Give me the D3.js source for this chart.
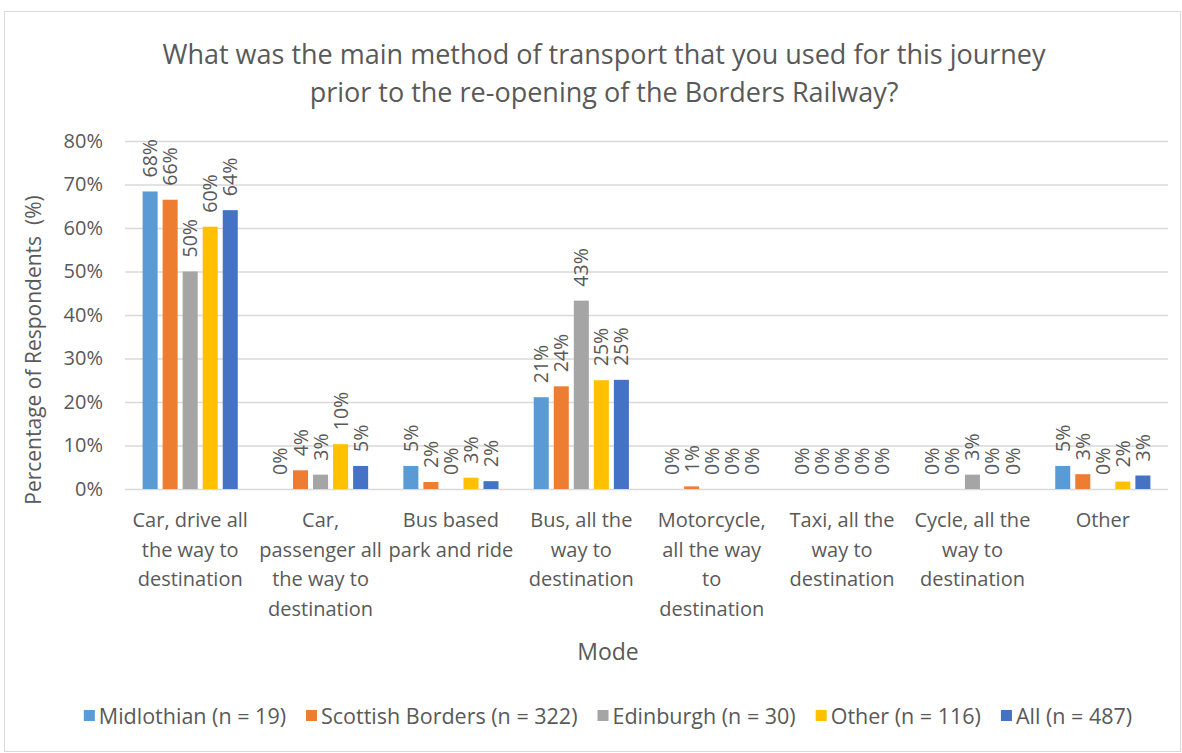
<!DOCTYPE html>
<meta charset="utf-8">
<head>
  <title>Transport mode prior to Borders Railway</title>
  <style>
    body { margin: 0; background: #fff; }
    text { font-family: "Open Sans", "Noto Sans", sans-serif; fill: #595959; }
  </style>
</head>
<script src="https://d3js.org/d3.v7.min.js"></script>
<div id="my_dataviz"></div>
<script>

// categories (wrapped lines as shown under the axis)
var categories = ["Car, drive all the way to destination", "Car, passenger all the way to destination",
  "Bus based park and ride", "Bus, all the way to destination", "Motorcycle, all the way to destination",
  "Taxi, all the way to destination", "Cycle, all the way to destination", "Other"];
var catLines = [
  ["Car, drive all", "the way to", "destination"],
  ["Car,", "passenger all", "the way to", "destination"],
  ["Bus based", "park and ride"],
  ["Bus, all the", "way to", "destination"],
  ["Motorcycle,", "all the way", "to", "destination"],
  ["Taxi, all the", "way to", "destination"],
  ["Cycle, all the", "way to", "destination"],
  ["Other"]
];

var seriesNames = ["Midlothian (n = 19)", "Scottish Borders (n = 322)", "Edinburgh (n = 30)", "Other (n = 116)", "All (n = 487)"];
var seriesColors = ["#5b9bd5", "#ed7d31", "#a5a5a5", "#ffc000", "#4472c4"];

// values in percent
var midlothian = [68.4, 0, 5.3, 21.1, 0, 0, 0, 5.3];
var borders    = [66.5, 4.3, 1.6, 23.6, 0.6, 0, 0, 3.4];
var edinburgh  = [50.0, 3.3, 0, 43.3, 0, 0, 3.3, 0];
var otherArea  = [60.3, 10.3, 2.6, 25.0, 0, 0, 0, 1.7];
var allResp    = [64.1, 5.3, 1.8, 25.1, 0, 0, 0, 3.1];
var valueLabels = [
  ["68%", "0%", "5%", "21%", "0%", "0%", "0%", "5%"],
  ["66%", "4%", "2%", "24%", "1%", "0%", "0%", "3%"],
  ["50%", "3%", "0%", "43%", "0%", "0%", "3%", "0%"],
  ["60%", "10%", "3%", "25%", "0%", "0%", "0%", "2%"],
  ["64%", "5%", "2%", "25%", "0%", "0%", "0%", "3%"]
];
var series = [midlothian, borders, edinburgh, otherArea, allResp];
var yTicks = [0, 10, 20, 30, 40, 50, 60, 70, 80];

var W = 1182, H = 753;
var plot = {left: 125, right: 1168, top: 141, bottom: 489};

var svg = d3.select("#my_dataviz").append("svg")
  .attr("width", W).attr("height", H);

// chart border
svg.append("rect")
  .attr("x", 4.5).attr("y", 11.5)
  .attr("width", 1176).attr("height", 740)
  .attr("fill", "#fff").attr("stroke", "#d9d9d9");

var x0 = d3.scaleBand().domain(categories).range([plot.left, plot.right]).paddingInner(0.27).paddingOuter(0.135);
var x1 = d3.scaleBand().domain(seriesNames).range([0, x0.bandwidth()]).paddingInner(0.25);
var y = d3.scaleLinear().domain([0, 80]).range([plot.bottom, plot.top]);

// gridlines
svg.append("g").selectAll("line").data(yTicks).enter().append("line")
  .attr("x1", plot.left).attr("x2", plot.right)
  .attr("y1", function(d) { return y(d) + 0.5; })
  .attr("y2", function(d) { return y(d) + 0.5; })
  .attr("stroke", "#d9d9d9").attr("stroke-width", 1.5);

// y axis labels
var yAxis = svg.append("g")
  .attr("transform", "translate(" + (plot.left - 4) + ",0)")
  .call(d3.axisLeft(y).tickValues(yTicks).tickSize(0).tickPadding(18).tickFormat(function(d) { return d + "%"; }));
yAxis.select(".domain").remove();
yAxis.selectAll("text").style("font-size", "20px").attr("fill", "#595959");

// bars
series.forEach(function(vals, si) {
  var g = svg.append("g");
  g.selectAll("rect").data(vals).enter().append("rect")
    .attr("x", function(d, i) { return x0(categories[i]) + x1(seriesNames[si]); })
    .attr("y", function(d) { return y(d); })
    .attr("width", x1.bandwidth())
    .attr("height", function(d) { return y(0) - y(d); })
    .attr("fill", seriesColors[si]);
  g.selectAll("text").data(vals).enter().append("text")
    .attr("transform", function(d, i) {
      var cx = x0(categories[i]) + x1(seriesNames[si]) + x1.bandwidth() / 2 + 7;
      return "translate(" + cx + "," + (y(d) - 14) + ") rotate(-90)";
    })
    .style("font-size", "19.5px")
    .text(function(d, i) { return valueLabels[si][i]; });
});

// category labels
catLines.forEach(function(lines, i) {
  var t = svg.append("text")
    .attr("text-anchor", "middle")
    .style("font-size", "20px");
  lines.forEach(function(l, k) {
    t.append("tspan")
      .attr("x", x0(categories[i]) + x0.bandwidth() / 2)
      .attr("y", 527 + k * 29.5)
      .text(l);
  });
});

// title
svg.append("text").attr("x", 604).attr("y", 64)
  .attr("text-anchor", "middle").style("font-size", "27px")
  .text("What was the main method of transport that you used for this journey");
svg.append("text").attr("x", 604).attr("y", 102)
  .attr("text-anchor", "middle").style("font-size", "27px")
  .text("prior to the re-opening of the Borders Railway?");

// axis titles
svg.append("text").attr("x", 608).attr("y", 660)
  .attr("text-anchor", "middle").style("font-size", "23px").text("Mode");
svg.append("text")
  .attr("transform", "translate(41,350) rotate(-90)")
  .attr("text-anchor", "middle").style("font-size", "21px")
  .style("white-space", "pre")
  .text("Percentage of Respondents  (%)");

// legend, laid out from measured text widths and centred
var legend = svg.append("g");
var cursor = 0, gap = 20;
seriesNames.forEach(function(name, i) {
  legend.append("rect")
    .attr("x", cursor).attr("y", 710)
    .attr("width", 11).attr("height", 11)
    .attr("fill", seriesColors[i]);
  var t = legend.append("text")
    .attr("x", cursor + 15).attr("y", 724)
    .style("font-size", "21.5px")
    .text(name);
  cursor += 15 + t.node().getComputedTextLength() + gap;
});
legend.attr("transform", "translate(" + (608 - (cursor - gap) / 2) + ",0)");

</script>
